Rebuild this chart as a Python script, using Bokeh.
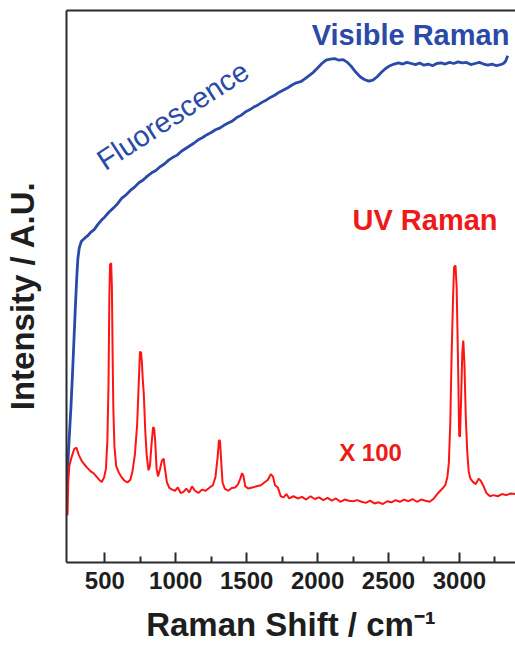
import math
from bokeh.plotting import figure
from bokeh.models import Label, LinearAxis, FixedTicker, Range1d
from bokeh.embed import file_html
from bokeh.resources import INLINE

# ---- data ----
vis_x = [234, 240, 250, 261, 272, 282, 292, 302, 310, 320, 335, 360, 380, 400, 425, 450, 475,
         500, 530, 560, 590, 620, 650, 680, 710, 740, 770, 800, 830, 860, 890, 920, 950, 980,
         1010, 1040, 1070, 1100, 1130, 1160, 1190, 1220, 1250, 1280, 1310, 1340, 1370, 1400,
         1430, 1460, 1490, 1520, 1550, 1580, 1610, 1640, 1670, 1700, 1730, 1760, 1790, 1820,
         1850, 1880, 1910, 1940, 1970, 2000, 2030, 2060, 2090, 2120, 2150, 2180, 2210, 2240,
         2270, 2300, 2330, 2360, 2390, 2420, 2450, 2480, 2510, 2540, 2570, 2600, 2630, 2660,
         2690, 2720, 2750, 2780, 2810, 2840, 2870, 2900, 2930, 2960, 2990, 3020, 3050, 3080,
         3110, 3140, 3170, 3200, 3230, 3260, 3290, 3310, 3325, 3340]
vis_y = [14.0, 18.0, 23.0, 28.0, 34.0, 40.0, 46.0, 51.5, 55.0, 57.0, 58.2, 58.8, 59.2, 59.8,
         60.3, 61.2, 62.0, 62.6, 63.5, 64.2, 65.0, 66.0, 66.6, 67.4, 68.0, 68.8, 69.3, 70.0,
         70.6, 71.0, 71.7, 72.2, 72.9, 73.4, 73.8, 74.5, 75.0, 75.5, 76.0, 76.6, 77.0, 77.5,
         77.9, 78.4, 78.7, 79.2, 79.6, 80.0, 80.6, 81.0, 81.6, 82.0, 82.5, 82.9, 83.4, 83.8,
         84.3, 84.7, 85.2, 85.6, 86.0, 86.5, 86.9, 87.1, 87.6, 88.2, 88.8, 89.6, 90.4, 91.0,
         91.2, 91.3, 91.0, 91.1, 90.6, 89.8, 88.8, 88.0, 87.5, 87.2, 87.4, 88.0, 88.8, 89.5,
         90.0, 90.3, 90.5, 90.3, 90.6, 90.4, 90.2, 90.5, 90.1, 90.3, 90.0, 90.4, 90.5, 90.3,
         90.6, 90.4, 90.7, 90.5, 90.6, 90.2, 90.4, 90.6, 90.3, 90.1, 90.3, 90.0, 90.2, 90.4,
         90.8, 91.8]

uv_x = [237, 242, 250, 265, 285, 300, 315, 335, 355, 375, 400, 420, 440, 460, 478, 495, 508,
        518, 526, 532, 537, 545, 550, 555, 560, 568, 580, 600, 620, 640, 660, 680, 695, 712,
        728, 740, 748, 756, 762, 768, 775, 785, 795, 808, 818, 828, 840, 848, 855, 865, 875,
        888, 903, 915, 925, 938, 955, 975, 995, 1015, 1035, 1055, 1075, 1095, 1115, 1135,
        1160, 1185, 1210, 1240, 1262, 1280, 1295, 1305, 1312, 1320, 1330, 1345, 1370, 1395,
        1420, 1440, 1455, 1468, 1478, 1490, 1510, 1540, 1570, 1600, 1625, 1650, 1670, 1685,
        1700, 1720, 1740, 1760, 1780, 1800, 1830, 1860, 1890, 1920, 1950, 1980, 2010, 2040,
        2070, 2100, 2130, 2160, 2190, 2220, 2250, 2280, 2310, 2340, 2370, 2400, 2430, 2460,
        2490, 2520, 2550, 2580, 2610, 2640, 2670, 2700, 2730, 2760, 2790, 2820, 2850, 2880,
        2900, 2915, 2925, 2935, 2945, 2955, 2962, 2972, 2980, 2986, 2992, 2998, 3004, 3012,
        3020, 3027, 3035, 3045, 3055, 3065, 3077, 3095, 3115, 3135, 3150, 3170, 3190, 3215,
        3240, 3270, 3300, 3330, 3360, 3395]
uv_y = [8.5, 14.5, 17.5, 19.0, 20.6, 20.8, 19.6, 18.5, 17.8, 17.2, 16.5, 16.2, 15.6, 15.0,
        14.6, 15.4, 17.0, 22.0, 32.0, 48.0, 54.0, 54.2, 50.0, 38.0, 28.0, 21.0, 17.5, 16.2,
        15.4, 14.8, 14.5, 15.0, 16.5, 19.5, 25.0, 33.0, 38.2, 38.0, 36.0, 33.0, 30.5, 24.0,
        19.5, 16.7, 17.5, 21.0, 24.5, 24.3, 22.0, 17.0, 15.6, 16.8, 18.5, 18.8, 16.8, 14.5,
        13.5, 13.2, 13.0, 13.6, 12.6, 12.8, 13.4, 12.7, 13.8, 13.0, 12.6, 13.2, 13.0, 13.6,
        14.0, 15.5, 19.0, 22.2, 22.0, 18.5, 14.5, 13.4, 13.0, 13.5, 13.6, 14.2, 15.2, 16.2,
        15.6, 13.8, 13.4, 13.6, 13.8, 14.0, 14.5, 15.0, 16.0, 15.6, 14.0, 13.6, 12.0, 11.8,
        12.4, 11.6, 12.0, 11.6, 11.9, 11.4, 12.0, 11.5, 11.8, 11.3, 11.7, 11.2, 11.6, 11.0,
        11.4, 11.2, 11.1, 11.3, 11.0, 10.8, 11.2, 10.7, 10.9, 10.6, 11.1, 10.9, 11.3, 11.0,
        11.4, 11.1, 11.5, 11.0, 11.4, 11.2, 11.0, 11.6, 12.6, 13.4, 14.0, 15.5, 18.0, 25.0,
        38.0, 48.0, 53.5, 53.8, 50.0, 42.0, 33.0, 23.0, 22.8, 30.0, 38.0, 40.2, 36.0, 26.0,
        20.0, 16.5, 15.2, 14.6, 14.2, 15.2, 14.8, 13.8, 12.6, 12.0, 12.2, 12.0, 12.4, 12.2,
        12.5, 12.4]

x_ticks = [500, 1000, 1500, 2000, 2500, 3000]
x_minor_ticks = [750, 1250, 1750, 2250, 2750, 3250]

BLUE = "#2a4aa8"
RED = "#ff1414"
RED_TXT = "#ee1a1a"
AXIS = "#2a2a2a"
TXT = "#1e1e1e"
FONT = "Liberation Sans"

p = figure(width=515, height=645, output_backend="svg", toolbar_location=None,
           x_range=Range1d(230, 3395), y_range=Range1d(0, 100),
           min_border_left=66, min_border_right=0, min_border_top=10, min_border_bottom=82)
p.outline_line_color = None
p.grid.visible = False

p.line(vis_x, vis_y, line_color=BLUE, line_width=2.8)
p.line(uv_x, uv_y, line_color=RED, line_width=2.0)

xa = p.xaxis[0]
xa.ticker = FixedTicker(ticks=x_ticks, minor_ticks=x_minor_ticks)
xa.axis_line_width = 2
xa.axis_line_color = AXIS
xa.major_tick_in = 10
xa.major_tick_out = 0
xa.minor_tick_in = 6
xa.minor_tick_out = 0
xa.major_tick_line_width = 2
xa.minor_tick_line_width = 2
xa.major_tick_line_color = AXIS
xa.minor_tick_line_color = AXIS
xa.major_label_text_font = FONT
xa.major_label_text_font_style = "bold"
xa.major_label_text_font_size = "24px"
xa.major_label_text_color = TXT
xa.major_label_standoff = 9
xa.axis_label = "Raman Shift / cm\u207b\u00b9"
xa.axis_label_text_font = FONT
xa.axis_label_text_font_style = "bold"
xa.axis_label_text_font_size = "33px"
xa.axis_label_text_color = TXT
xa.axis_label_standoff = 14

ya = p.yaxis[0]
ya.ticker = FixedTicker(ticks=[])
ya.axis_line_width = 2
ya.axis_line_color = AXIS
ya.axis_label = "Intensity / A.U.\u00a0\u00a0"
ya.axis_label_text_font = FONT
ya.axis_label_text_font_style = "bold"
ya.axis_label_text_font_size = "33px"
ya.axis_label_text_color = TXT
ya.axis_label_standoff = 26

top = LinearAxis(ticker=FixedTicker(ticks=[]), axis_line_width=2, axis_line_color=AXIS)
p.add_layout(top, "above")

p.add_layout(Label(x=2655, y=95.6, text="Visible Raman", text_align="center",
                   text_baseline="middle", text_font=FONT, text_font_style="bold",
                   text_font_size="29px", text_color=BLUE))
p.add_layout(Label(x=979, y=81.0, text="Fluorescence", angle=math.radians(33),
                   text_align="center", text_baseline="middle", text_font=FONT,
                   text_font_size="29px", text_color=BLUE))
p.add_layout(Label(x=2757, y=62.0, text="UV Raman", text_align="center",
                   text_baseline="middle", text_font=FONT, text_font_style="bold",
                   text_font_size="29px", text_color=RED_TXT))
p.add_layout(Label(x=2373, y=19.9, text="X 100", text_align="center",
                   text_baseline="middle", text_font=FONT, text_font_style="bold",
                   text_font_size="24px", text_color=RED_TXT))

open("out.html", "w").write(file_html(p, INLINE))
